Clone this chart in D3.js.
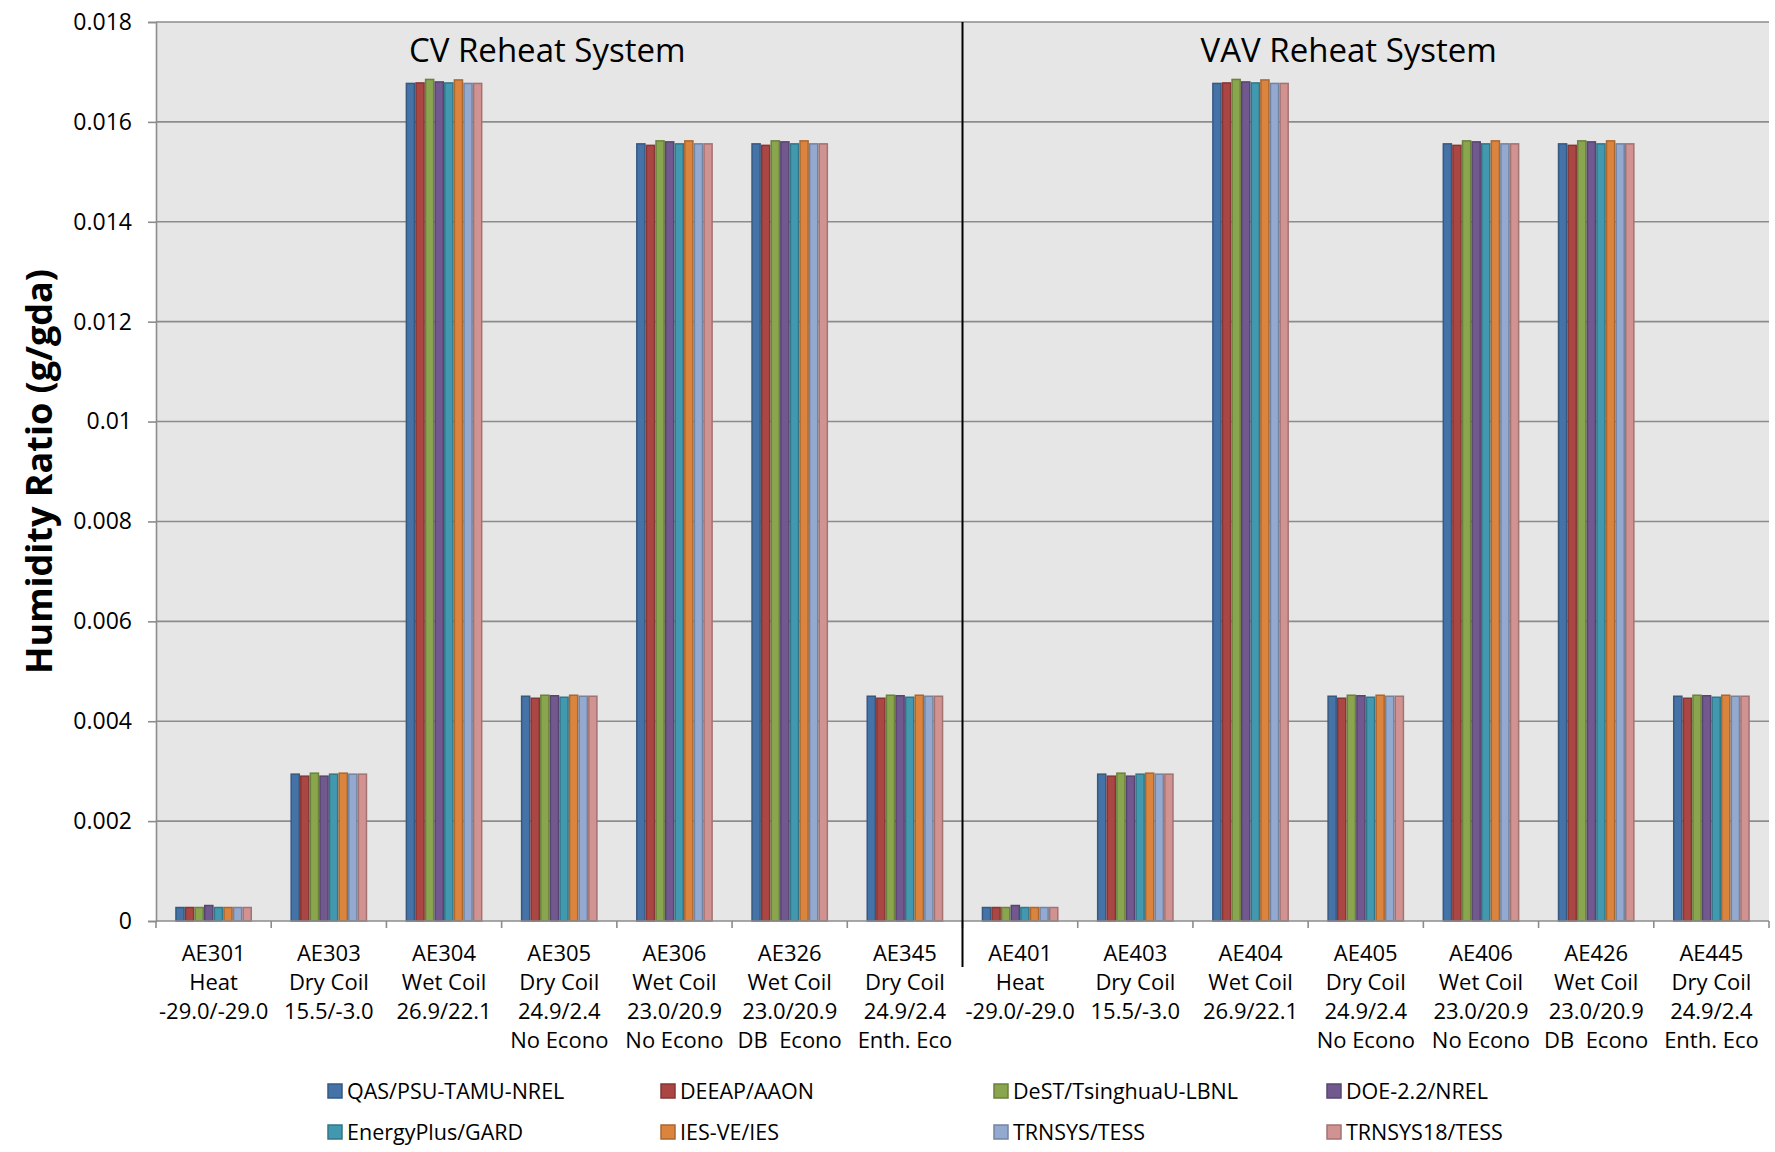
<!DOCTYPE html>
<html>
<head>
<meta charset="utf-8">
<script src="https://cdn.jsdelivr.net/npm/d3@7"></script>
<style>
  body { margin: 0; background: #fff; }
  text { font-family: "Open Sans", sans-serif; fill: #000; }
</style>
</head>
<body>
<svg id="chart"></svg>
<script>
const cases = ["AE301", "AE303", "AE304", "AE305", "AE306", "AE326", "AE345",
               "AE401", "AE403", "AE404", "AE405", "AE406", "AE426", "AE445"];
const caseLines = [
  ["Heat", "-29.0/-29.0"], ["Dry Coil", "15.5/-3.0"], ["Wet Coil", "26.9/22.1"],
  ["Dry Coil", "24.9/2.4", "No Econo"], ["Wet Coil", "23.0/20.9", "No Econo"],
  ["Wet Coil", "23.0/20.9", "DB\u00a0\u00a0Econo"], ["Dry Coil", "24.9/2.4", "Enth. Eco"],
  ["Heat", "-29.0/-29.0"], ["Dry Coil", "15.5/-3.0"], ["Wet Coil", "26.9/22.1"],
  ["Dry Coil", "24.9/2.4", "No Econo"], ["Wet Coil", "23.0/20.9", "No Econo"],
  ["Wet Coil", "23.0/20.9", "DB\u00a0\u00a0Econo"], ["Dry Coil", "24.9/2.4", "Enth. Eco"]
];
const programs = ["QAS/PSU-TAMU-NREL", "DEEAP/AAON", "DeST/TsinghuaU-LBNL", "DOE-2.2/NREL",
                  "EnergyPlus/GARD", "IES-VE/IES", "TRNSYS/TESS", "TRNSYS18/TESS"];
const colors = ["#4572A7", "#AA4643", "#89A54E", "#71588F", "#4198AF", "#DB843D", "#93A9CF", "#D19392"];

// humidity ratio per program, one value per case
const qas      = [0.00027, 0.00294, 0.01677, 0.00450, 0.01556, 0.01556, 0.00450, 0.00027, 0.00294, 0.01677, 0.00450, 0.01556, 0.01556, 0.00450];
const deeap    = [0.00027, 0.00290, 0.01678, 0.00446, 0.01553, 0.01553, 0.00446, 0.00027, 0.00290, 0.01678, 0.00446, 0.01553, 0.01553, 0.00446];
const dest     = [0.00027, 0.00296, 0.01685, 0.00452, 0.01562, 0.01562, 0.00452, 0.00027, 0.00296, 0.01685, 0.00452, 0.01562, 0.01562, 0.00452];
const doe22    = [0.00031, 0.00290, 0.01680, 0.00451, 0.01560, 0.01560, 0.00451, 0.00031, 0.00290, 0.01680, 0.00451, 0.01560, 0.01560, 0.00451];
const eplus    = [0.00027, 0.00294, 0.01678, 0.00448, 0.01556, 0.01556, 0.00448, 0.00027, 0.00294, 0.01678, 0.00448, 0.01556, 0.01556, 0.00448];
const iesve    = [0.00027, 0.00296, 0.01684, 0.00452, 0.01562, 0.01562, 0.00452, 0.00027, 0.00296, 0.01684, 0.00452, 0.01562, 0.01562, 0.00452];
const trnsys   = [0.00027, 0.00294, 0.01677, 0.00450, 0.01556, 0.01556, 0.00450, 0.00027, 0.00294, 0.01677, 0.00450, 0.01556, 0.01556, 0.00450];
const trnsys18 = [0.00027, 0.00294, 0.01677, 0.00450, 0.01556, 0.01556, 0.00450, 0.00027, 0.00294, 0.01677, 0.00450, 0.01556, 0.01556, 0.00450];
const series = [qas, deeap, dest, doe22, eplus, iesve, trnsys, trnsys18];

const yTicks = [0, 0.002, 0.004, 0.006, 0.008, 0.01, 0.012, 0.014, 0.016, 0.018];
const systems = ["CV Reheat System", "VAV Reheat System"];

const width = 1775, height = 1152;
const margin = { top: 22, right: 6, bottom: 231, left: 156 };
const plotW = width - margin.left - margin.right;
const plotH = height - margin.top - margin.bottom;

const svg = d3.select("#chart").attr("width", width).attr("height", height);
svg.append("rect").attr("width", width).attr("height", height).attr("fill", "#fff");

const g = svg.append("g").attr("transform", `translate(${margin.left},${margin.top})`);

const x0 = d3.scaleBand().domain(cases).range([0, plotW]).paddingInner(1 / 3).paddingOuter(1 / 6);
const x1 = d3.scaleBand().domain(d3.range(programs.length)).range([0, x0.bandwidth()]);
const y = d3.scaleLinear().domain([0, 0.018]).range([plotH, 0]);

g.append("rect").attr("width", plotW).attr("height", plotH).attr("fill", "#E6E6E6");

// gridlines
g.append("g")
  .selectAll("line")
  .data(yTicks.slice(1))
  .enter()
  .append("line")
  .attr("x1", 0)
  .attr("x2", plotW)
  .attr("y1", (d) => y(d))
  .attr("y2", (d) => y(d))
  .attr("stroke", "#8C8C8C")
  .attr("stroke-width", 1.6);

// y axis
const yAxis = g.append("g")
  .call(d3.axisLeft(y).tickValues(yTicks).tickFormat((d) => d === 0 ? "0" : String(+d.toFixed(3))).tickSize(8).tickPadding(16));
yAxis.select(".domain").attr("stroke", "#8C8C8C").attr("stroke-width", 1.6);
yAxis.selectAll(".tick line").attr("stroke", "#8C8C8C").attr("stroke-width", 1.6);
yAxis.selectAll(".tick text").attr("font-size", 23).attr("font-family", "Open Sans").attr("fill", "#000");

// bars
const groups = g.append("g")
  .selectAll("g")
  .data(cases)
  .enter()
  .append("g")
  .attr("transform", (d) => `translate(${x0(d)},0)`);

groups.selectAll("rect")
  .data((_, ci) => series.map((s, si) => ({ si, v: s[ci] })))
  .enter()
  .append("rect")
  .attr("x", (d) => x1(d.si) + 0.75)
  .attr("y", (d) => y(d.v))
  .attr("width", x1.bandwidth() - 1.5)
  .attr("height", (d) => plotH - y(d.v))
  .attr("fill", (d) => colors[d.si])
  .attr("stroke", (d) => d3.color(colors[d.si]).darker(0.7))
  .attr("stroke-width", 1.5);

// x axis line and category ticks
g.append("line")
  .attr("x1", 0).attr("x2", plotW)
  .attr("y1", plotH).attr("y2", plotH)
  .attr("stroke", "#8C8C8C").attr("stroke-width", 1.6);

const step = x0.step();
g.append("g")
  .selectAll("line")
  .data(d3.range(cases.length + 1))
  .enter()
  .append("line")
  .attr("x1", (i) => i * step)
  .attr("x2", (i) => i * step)
  .attr("y1", plotH)
  .attr("y2", plotH + 7)
  .attr("stroke", "#8C8C8C")
  .attr("stroke-width", 1.6);

// category labels
const labels = g.append("g")
  .selectAll("text")
  .data(cases)
  .enter()
  .append("text")
  .attr("text-anchor", "middle")
  .attr("font-size", 22)
  .attr("transform", (d) => `translate(${x0(d) + x0.bandwidth() / 2},${plotH + 40})`);
labels.selectAll("tspan")
  .data((d, i) => [d].concat(caseLines[i]))
  .enter()
  .append("tspan")
  .attr("x", 0)
  .attr("dy", (_, i) => (i === 0 ? 0 : 29))
  .text((d) => d);

// divider between CV and VAV
g.append("line")
  .attr("x1", 7 * step).attr("x2", 7 * step)
  .attr("y1", 0).attr("y2", plotH + 46)
  .attr("stroke", "#000").attr("stroke-width", 2);

// system titles
const titleShift = [-12, -17];
g.selectAll(".sys")
  .data(systems)
  .enter()
  .append("text")
  .attr("class", "sys")
  .attr("text-anchor", "middle")
  .attr("font-size", 33)
  .attr("x", (_, i) => (i + 0.5) * 7 * step + titleShift[i])
  .attr("y", 40)
  .text((d) => d);

// y axis title
svg.append("text")
  .attr("transform", `translate(52,${margin.top + plotH / 2}) rotate(-90)`)
  .attr("text-anchor", "middle")
  .attr("font-size", 36)
  .attr("font-weight", "bold")
  .text("Humidity Ratio (g/gda)");

// legend
const legend = svg.append("g")
  .selectAll("g")
  .data(programs)
  .enter()
  .append("g")
  .attr("transform", (_, i) => `translate(${328 + (i % 4) * 333},${1091 + Math.floor(i / 4) * 41})`);
legend.append("rect")
  .attr("x", 0).attr("y", -7)
  .attr("width", 14).attr("height", 14)
  .attr("fill", (_, i) => colors[i])
  .attr("stroke", (_, i) => d3.color(colors[i]).darker(0.7))
  .attr("stroke-width", 1.5);
legend.append("text")
  .attr("x", 19)
  .attr("y", 0)
  .attr("dy", "0.35em")
  .attr("font-size", 21.5)
  .text((d) => d);
</script>
</body>
</html>
